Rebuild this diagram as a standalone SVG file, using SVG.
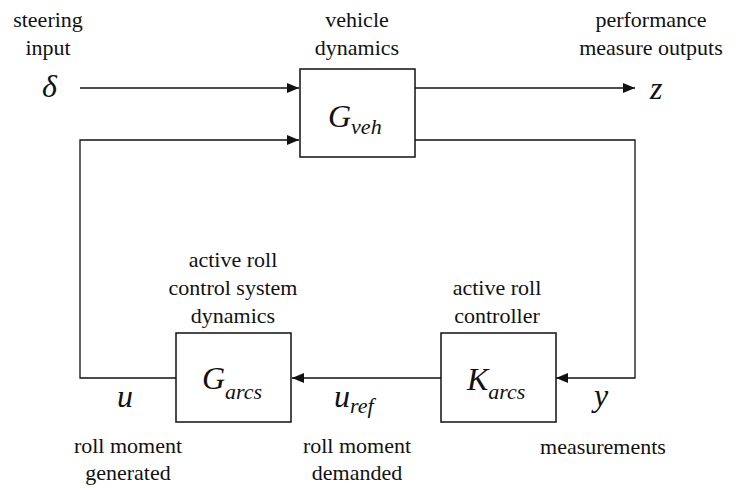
<svg xmlns="http://www.w3.org/2000/svg" width="736" height="488" viewBox="0 0 736 488" font-family="Liberation Serif, serif">
  <style>
    .lbl { font-size: 22px; text-anchor: middle; fill: #111; }
    .sym { font-style: italic; font-size: 32px; fill: #111; }
    .sub { font-size: 22px; }
    .box { fill: #fff; stroke: #111; stroke-width: 1.5; }
    .wire { fill: none; stroke: #111; stroke-width: 1.3; }
  </style>
  <defs>
    <marker id="arrow" markerUnits="userSpaceOnUse" markerWidth="13" markerHeight="10" refX="12" refY="5" orient="auto">
      <path d="M0,0 L12,5 L0,10 z" fill="#111"/>
    </marker>
  </defs>
  <rect width="736" height="488" fill="#fff"/>

  <!-- signal wires -->
  <g id="connectors">
    <path class="wire" d="M80,88 H299" marker-end="url(#arrow)"/>
    <path class="wire" d="M415,88 H635" marker-end="url(#arrow)"/>
    <path class="wire" d="M176,378 H80 V140 H299" marker-end="url(#arrow)"/>
    <path class="wire" d="M415,140 H635 V378 H556" marker-end="url(#arrow)"/>
    <path class="wire" d="M441,378 H292" marker-end="url(#arrow)"/>
  </g>

  <!-- plant -->
  <g id="vehicle-dynamics">
    <rect class="box" x="300" y="69" width="115" height="88"/>
    <text class="lbl" font-family="Liberation Serif" x="357" y="27">vehicle</text>
    <text class="lbl" font-family="Liberation Serif" x="357" y="55">dynamics</text>
    <text class="sym" font-family="Liberation Serif" x="328" y="127">G<tspan class="sub" dy="7">veh</tspan></text>
  </g>

  <!-- actuator -->
  <g id="arcs-dynamics">
    <rect class="box" x="176" y="333" width="115" height="89"/>
    <text class="lbl" font-family="Liberation Serif" x="233" y="267">active roll</text>
    <text class="lbl" font-family="Liberation Serif" x="233" y="295">control system</text>
    <text class="lbl" font-family="Liberation Serif" x="233" y="323">dynamics</text>
    <text class="sym" font-family="Liberation Serif" x="202" y="389">G<tspan class="sub" dy="10">arcs</tspan></text>
  </g>

  <!-- controller -->
  <g id="arcs-controller">
    <rect class="box" x="441" y="333" width="115" height="89"/>
    <text class="lbl" font-family="Liberation Serif" x="497" y="295">active roll</text>
    <text class="lbl" font-family="Liberation Serif" x="497" y="323">controller</text>
    <text class="sym" font-family="Liberation Serif" x="467" y="390">K<tspan class="sub" dy="9">arcs</tspan></text>
  </g>

  <!-- signal labels -->
  <g id="steering-input">
    <text class="lbl" font-family="Liberation Serif" x="48" y="27">steering</text>
    <text class="lbl" font-family="Liberation Serif" x="48" y="55">input</text>
    <text class="sym" font-family="Liberation Serif" x="42" y="97">δ</text>
  </g>
  <g id="performance-outputs">
    <text class="lbl" font-family="Liberation Serif" x="651" y="27">performance</text>
    <text class="lbl" font-family="Liberation Serif" x="651" y="55">measure outputs</text>
    <text class="sym" font-family="Liberation Serif" x="650" y="99">z</text>
  </g>
  <g id="moment-generated">
    <text class="sym" font-family="Liberation Serif" x="117" y="407">u</text>
    <text class="lbl" font-family="Liberation Serif" x="128" y="453">roll moment</text>
    <text class="lbl" font-family="Liberation Serif" x="128" y="480">generated</text>
  </g>
  <g id="moment-demanded">
    <text class="sym" font-family="Liberation Serif" x="334" y="407">u<tspan class="sub" dy="6">ref</tspan></text>
    <text class="lbl" font-family="Liberation Serif" x="357" y="453">roll moment</text>
    <text class="lbl" font-family="Liberation Serif" x="357" y="480">demanded</text>
  </g>
  <g id="measurements">
    <text class="sym" font-family="Liberation Serif" x="594" y="406">y</text>
    <text class="lbl" font-family="Liberation Serif" x="603" y="454">measurements</text>
  </g>
</svg>
